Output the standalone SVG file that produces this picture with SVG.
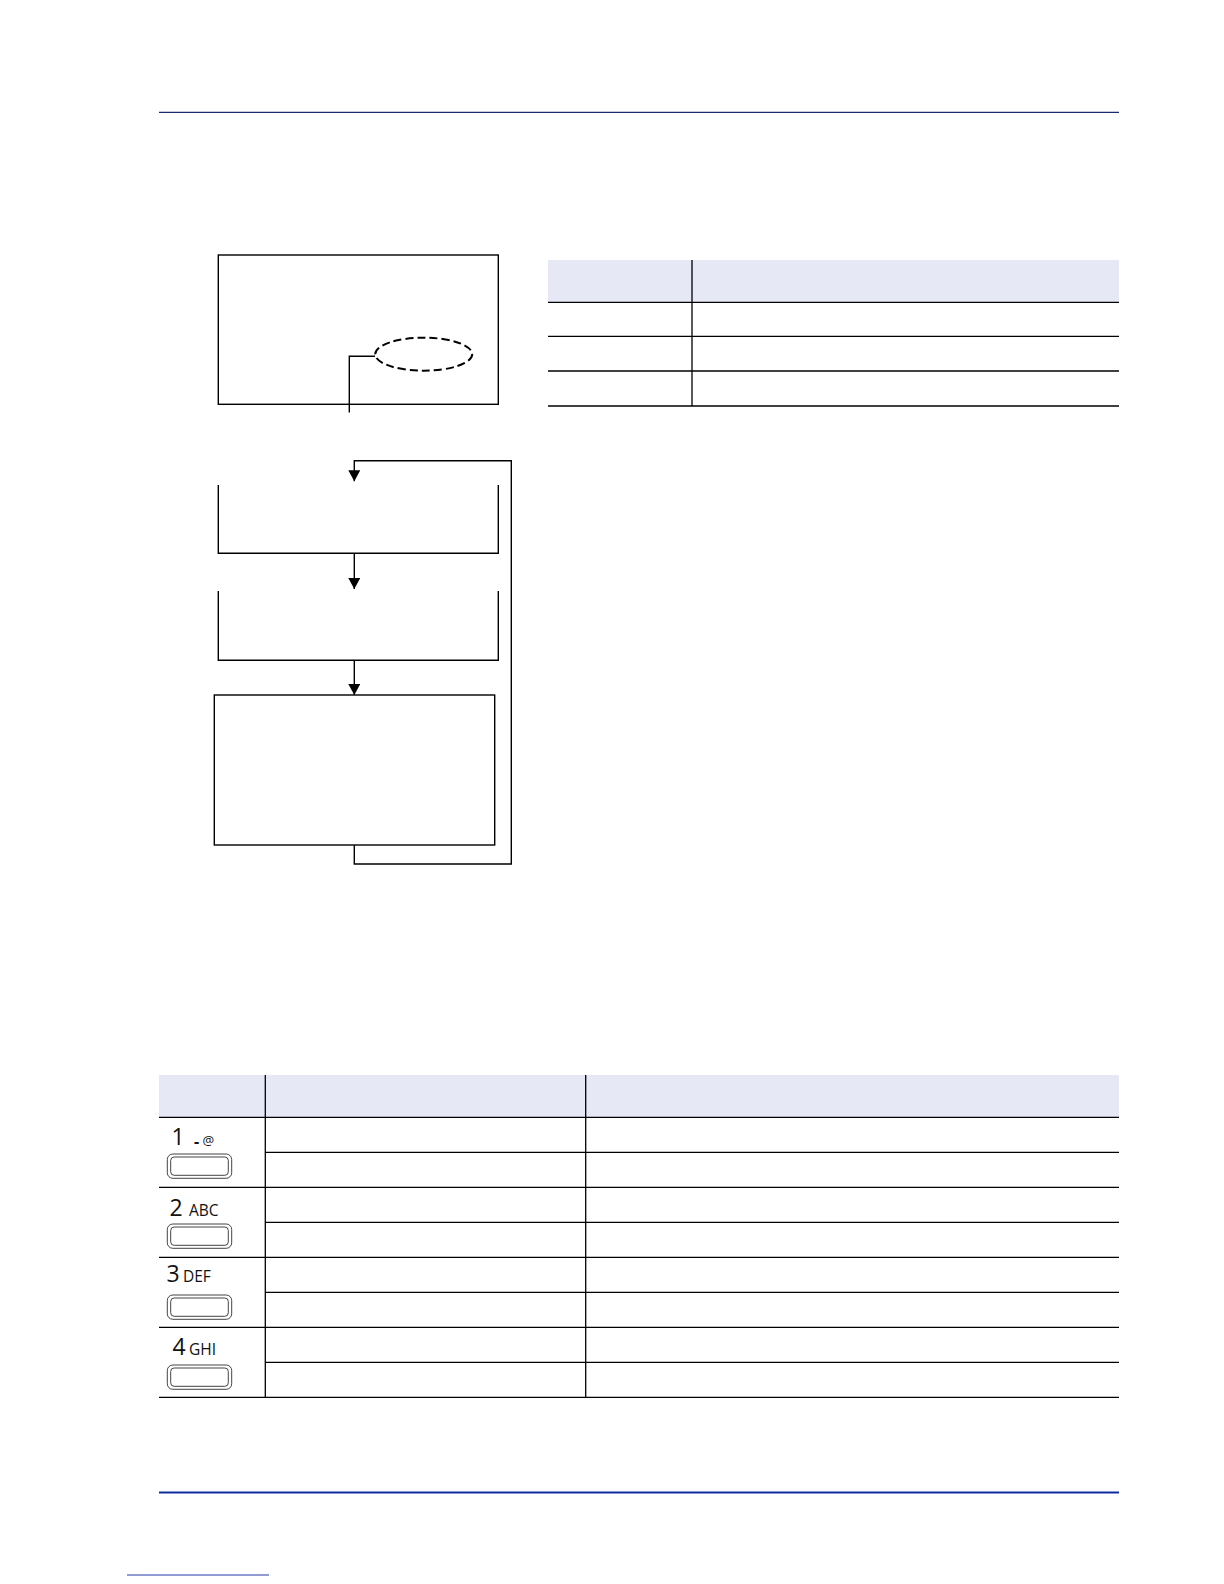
<svg xmlns="http://www.w3.org/2000/svg" xmlns:xlink="http://www.w3.org/1999/xlink" width="1224" height="1584" viewBox="0 0 1224 1584">
  <style>
    .ln { stroke: #000; stroke-width: 1.4; fill: none; }
    .tl { stroke: #000; stroke-width: 1.3; fill: none; }
    .hdr { fill: #e6e8f6; stroke: none; }
    .dig { font-family: "Open Sans", "Noto Sans", sans-serif; font-size: 23px; fill: #111; }
    .let { font-family: "Open Sans", "Noto Sans", sans-serif; font-size: 15.5px; fill: #111; }
    .kb { fill: #fff; stroke: #444; stroke-width: 1; }
  </style>
  <defs>
    <marker id="arr" viewBox="0 0 10 10" refX="10" refY="5" markerUnits="userSpaceOnUse" markerWidth="11" markerHeight="12" orient="auto" preserveAspectRatio="none">
      <path d="M0,0 L10,5 L0,10 z" fill="#000"/>
    </marker>
    <g id="key">
      <rect class="kb" x="0" y="0" width="64.4" height="24.3" rx="5.5"/>
      <rect class="kb" x="3.4" y="3" width="57.6" height="18.3" rx="3.5"/>
    </g>
  </defs>

  <rect width="1224" height="1584" fill="#fff"/>

  <!-- page rules -->
  <line x1="159" y1="112.3" x2="1119" y2="112.3" stroke="#1c2b6e" stroke-width="1.3"/>
  <line x1="159" y1="1492.5" x2="1119" y2="1492.5" stroke="#0f2da0" stroke-width="2.2"/>
  <line x1="127" y1="1575" x2="269" y2="1575" stroke="#2236a8" stroke-width="1"/>

  <!-- flowchart nodes -->
  <g id="node-screen">
    <rect class="ln" x="218.3" y="255" width="280" height="149.3"/>
    <ellipse cx="423.7" cy="354.2" rx="48.5" ry="16.5" fill="none" stroke="#000" stroke-width="2" stroke-dasharray="8 4"/>
  </g>
  <g id="node-step1">
    <path class="ln" d="M218.3,485 V553.3 H498.3 V485"/>
  </g>
  <g id="node-step2">
    <path class="ln" d="M218.3,591 V660.3 H498.3 V591"/>
  </g>
  <g id="node-step3">
    <rect class="ln" x="214.3" y="695" width="280.4" height="150"/>
  </g>

  <g id="connectors">
    <path class="ln" d="M375,356.3 H349.3 V412.5"/>
    <path class="ln" d="M354.3,845 V864 H511.3 V460.7 H354.3 V481.3" marker-end="url(#arr)"/>
    <path class="ln" d="M354.3,553.3 V589" marker-end="url(#arr)"/>
    <path class="ln" d="M354.3,660.3 V695" marker-end="url(#arr)"/>
  </g>

  <!-- top table -->
  <g id="table-top">
    <rect class="hdr" x="548" y="260" width="571" height="42.3"/>
    <line class="tl" x1="692" y1="260" x2="692" y2="406"/>
    <line class="tl" x1="548" y1="302.3" x2="1119" y2="302.3"/>
    <line class="tl" x1="548" y1="336.3" x2="1119" y2="336.3"/>
    <line class="tl" x1="548" y1="371" x2="1119" y2="371"/>
    <line class="tl" x1="548" y1="406" x2="1119" y2="406"/>
  </g>

  <!-- bottom table -->
  <g id="table-keys">
    <rect class="hdr" x="159" y="1075" width="960" height="42.3"/>
    <line class="tl" x1="265.3" y1="1075" x2="265.3" y2="1397.3"/>
    <line class="tl" x1="585.7" y1="1075" x2="585.7" y2="1397.3"/>
    <line class="tl" x1="159" y1="1117.3" x2="1119" y2="1117.3"/>
    <line class="tl" x1="265.3" y1="1152.3" x2="1119" y2="1152.3"/>
    <line class="tl" x1="159" y1="1187.3" x2="1119" y2="1187.3"/>
    <line class="tl" x1="265.3" y1="1222.3" x2="1119" y2="1222.3"/>
    <line class="tl" x1="159" y1="1257.3" x2="1119" y2="1257.3"/>
    <line class="tl" x1="265.3" y1="1292.3" x2="1119" y2="1292.3"/>
    <line class="tl" x1="159" y1="1327.3" x2="1119" y2="1327.3"/>
    <line class="tl" x1="265.3" y1="1362.3" x2="1119" y2="1362.3"/>
    <line class="tl" x1="159" y1="1397.3" x2="1119" y2="1397.3"/>
  </g>

  <g id="key-1">
    <text class="dig" x="171.5" y="1145">1</text>
    <text y="1147" font-family="'Open Sans', 'Noto Sans', sans-serif" fill="#111"><tspan x="194" font-size="16" font-weight="bold">-</tspan><tspan x="202.5" y="1145" font-size="13">@</tspan></text>
    <use xlink:href="#key" x="167.3" y="1154"/>
  </g>
  <g id="key-2">
    <text class="dig" x="169.5" y="1216">2</text>
    <text class="let" x="189" y="1216">ABC</text>
    <use xlink:href="#key" x="167.3" y="1224"/>
  </g>
  <g id="key-3">
    <text class="dig" x="166.5" y="1282">3</text>
    <text class="let" x="183" y="1282">DEF</text>
    <use xlink:href="#key" x="167.3" y="1295"/>
  </g>
  <g id="key-4">
    <text class="dig" x="172.5" y="1355">4</text>
    <text class="let" x="189" y="1355">GHI</text>
    <use xlink:href="#key" x="167.3" y="1365"/>
  </g>
</svg>
